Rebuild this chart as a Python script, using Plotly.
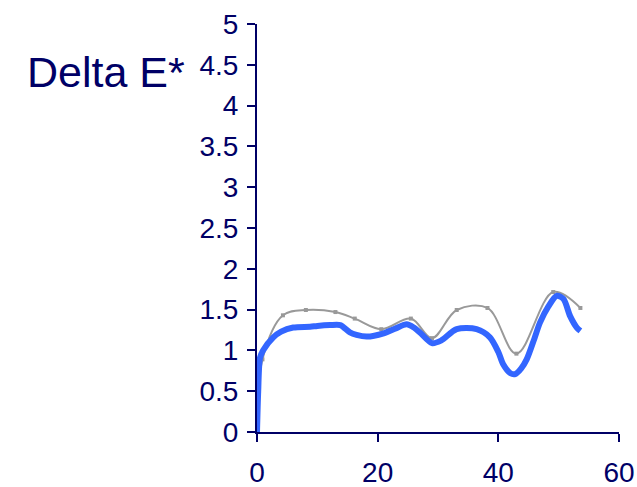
import plotly.graph_objects as go

# Gray series (with markers)
gray_x = [0, 0.9, 4.3, 8.1, 13.0, 16.2, 20.6, 25.5, 29.0, 33.1, 38.2, 43.0, 49.1, 53.6]
gray_y = [0, 0.89, 1.43, 1.495, 1.47, 1.39, 1.26, 1.39, 1.15, 1.495, 1.52, 0.96, 1.715, 1.52]

# Blue series (thick line)
blue_x = [0, 0.2, 0.5, 1, 2.7, 4, 6, 8.8, 10, 12.1, 13.8, 15.4, 16.5, 18.2, 21, 23, 24.8,
          26, 27, 29, 30.5, 33.1, 36.4, 38.6, 40, 40.8, 42, 42.8, 43.8, 44.7, 46, 46.9,
          48.3, 49.7, 50.8, 51.9, 53, 53.6]
blue_y = [0, 0.5, 0.91, 1.0, 1.16, 1.23, 1.28, 1.29, 1.30, 1.31, 1.31, 1.22, 1.19, 1.17,
          1.21, 1.27, 1.32, 1.28, 1.22, 1.09, 1.12, 1.26, 1.26, 1.16, 0.98, 0.83, 0.72,
          0.71, 0.78, 0.89, 1.15, 1.34, 1.54, 1.67, 1.63, 1.42, 1.28, 1.24]

x_ticks = [0, 20, 40, 60]
y_ticks = [0, 0.5, 1, 1.5, 2, 2.5, 3, 3.5, 4, 4.5, 5]
y_tick_labels = ["0", "0.5", "1", "1.5", "2", "2.5", "3", "3.5", "4", "4.5", "5"]
y_title = "Delta E*"

navy = "#000066"
font_family = "Liberation Sans, Arial, sans-serif"

fig = go.Figure()
fig.add_trace(go.Scatter(
    x=gray_x, y=gray_y, mode="lines+markers",
    line=dict(color="#999999", width=2, shape="spline", smoothing=1.0),
    marker=dict(symbol="square", size=4, color="#999999"),
    showlegend=False, cliponaxis=False,
))
fig.add_trace(go.Scatter(
    x=blue_x, y=blue_y, mode="lines",
    line=dict(color="#3366ff", width=6, shape="spline", smoothing=0.8),
    showlegend=False, cliponaxis=False,
))

fig.update_layout(
    width=637, height=487,
    margin=dict(l=257, r=18, t=23.5, b=54.5, autoexpand=False),
    paper_bgcolor="white", plot_bgcolor="white",
    font=dict(family=font_family, color=navy, size=28),
    xaxis=dict(
        range=[0, 60], tickvals=x_ticks, ticktext=[str(v) for v in x_ticks],
        showgrid=False, zeroline=False, showline=True, linecolor=navy, linewidth=2,
        ticks="outside", ticklen=8, tickwidth=2, tickcolor=navy, automargin=False,
        ticklabelstandoff=6,
        tickfont=dict(size=28, color=navy, family=font_family),
    ),
    yaxis=dict(
        range=[0, 5], tickvals=y_ticks, ticktext=y_tick_labels,
        showgrid=False, zeroline=False, showline=True, linecolor=navy, linewidth=2,
        ticks="outside", ticklen=8, tickwidth=2, tickcolor=navy, automargin=False,
        ticklabelstandoff=3,
        tickfont=dict(size=28, color=navy, family=font_family),
    ),
    annotations=[dict(
        text=y_title, xref="paper", yref="paper",
        x=(25 - 257) / 362, y=(432.5 - 72) / 409,
        xanchor="left", yanchor="middle", showarrow=False,
        font=dict(size=43, color=navy, family=font_family),
    )],
)

fig.write_html(
    "out.html",
    config={"displayModeBar": False},
    post_script="document.body.style.margin='0';document.body.style.overflow='hidden';",
)
